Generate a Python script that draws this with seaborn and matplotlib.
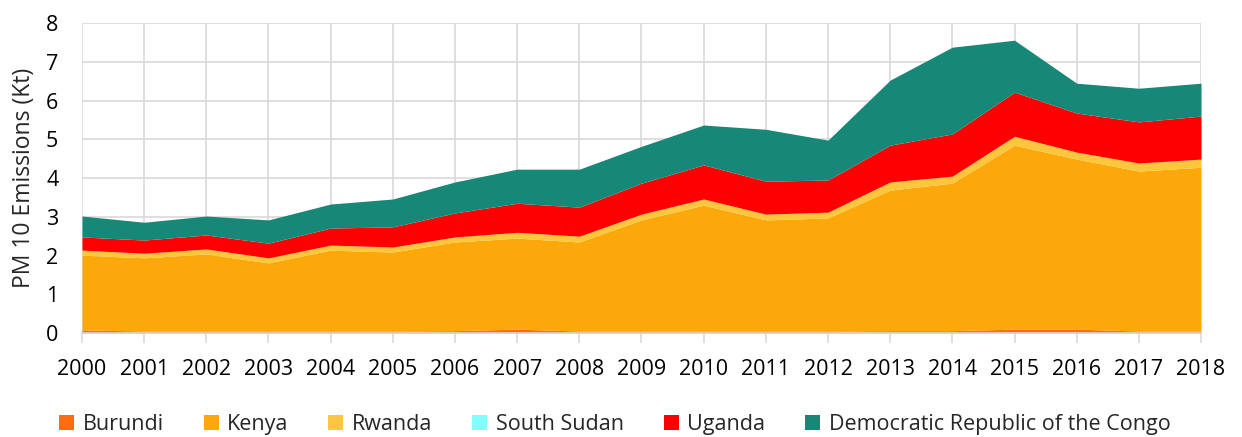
import numpy as np
import pandas as pd
import matplotlib
matplotlib.use("Agg")
import matplotlib.pyplot as plt
import seaborn as sns
from matplotlib.patches import Patch


# Data -----------------------------------------------------------------------------------

years = list(range(2000, 2019))

burundi = [0.08, 0.05, 0.05, 0.05, 0.05, 0.05, 0.06, 0.10, 0.05, 0.05,
           0.05, 0.05, 0.05, 0.06, 0.06, 0.10, 0.10, 0.05, 0.05]
kenya = [1.93, 1.89, 1.99, 1.76, 2.09, 2.04, 2.29, 2.35, 2.30, 2.87,
         3.25, 2.87, 2.92, 3.63, 3.81, 4.75, 4.39, 4.13, 4.23]
rwanda = [0.13, 0.12, 0.13, 0.13, 0.13, 0.13, 0.13, 0.15, 0.15, 0.15,
          0.16, 0.15, 0.15, 0.21, 0.18, 0.23, 0.18, 0.21, 0.21]
south_sudan = [0.0, 0.0, 0.0, 0.0, 0.0, 0.0, 0.0, 0.0, 0.0, 0.0,
               0.0, 0.0, 0.0, 0.0, 0.0, 0.0, 0.0, 0.0, 0.0]
uganda = [0.34, 0.34, 0.36, 0.38, 0.44, 0.52, 0.62, 0.75, 0.75, 0.80,
          0.88, 0.85, 0.83, 0.95, 1.09, 1.14, 1.01, 1.06, 1.11]
drc = [0.54, 0.46, 0.49, 0.60, 0.62, 0.72, 0.80, 0.88, 0.98, 0.95,
       1.03, 1.34, 1.03, 1.68, 2.24, 1.34, 0.77, 0.87, 0.85]

countries = ["Burundi", "Kenya", "Rwanda", "South Sudan", "Uganda",
             "Democratic Republic of the Congo"]
colors = ["#FF6C0C", "#FCA80A", "#FDC63C", "#80FFFF", "#FF0000", "#178878"]

df = pd.DataFrame({
    "year": years,
    "Burundi": burundi,
    "Kenya": kenya,
    "Rwanda": rwanda,
    "South Sudan": south_sudan,
    "Uganda": uganda,
    "Democratic Republic of the Congo": drc,
})


# Plot -----------------------------------------------------------------------------------

sns.set_theme(style="whitegrid")
plt.rcParams["font.family"] = ["Open Sans", "DejaVu Sans"]

fig = plt.figure(figsize=(12.42, 4.37), dpi=100)
ax = fig.add_axes([0.066, 0.238, 0.901, 0.709])

ax.stackplot(df["year"], [df[c] for c in countries], colors=colors,
             linewidth=0, zorder=2)

ax.set_xlim(2000, 2018)
ax.set_ylim(0, 8)
ax.set_xticks(years)
ax.set_yticks(range(0, 9))
ax.tick_params(axis="x", labelsize=15.5, colors="#D9D9D9", labelcolor="black",
               length=7, width=1.2, direction="out", bottom=True, pad=12)
ax.tick_params(axis="y", labelsize=15.5, labelcolor="black", length=0, pad=17)
ax.grid(True, color="#D9D9D9", linewidth=1.2, zorder=0)
ax.set_axisbelow(True)
for side in ["left", "top", "right"]:
    ax.spines[side].set_visible(False)
ax.spines["bottom"].set_color("#D9D9D9")
ax.spines["bottom"].set_linewidth(1.2)

ax.set_ylabel("PM 10 Emissions (Kt)", fontsize=16.5, labelpad=7)

handles = [Patch(facecolor=c, edgecolor="none") for c in colors]
fig.legend(handles, countries, loc="lower center", bbox_to_anchor=(0.495, -0.04),
           ncol=6, frameon=False, fontsize=15.5, handlelength=0.7,
           handleheight=0.7, handletextpad=0.4, columnspacing=1.85)

fig.savefig("out.png", dpi=100)
